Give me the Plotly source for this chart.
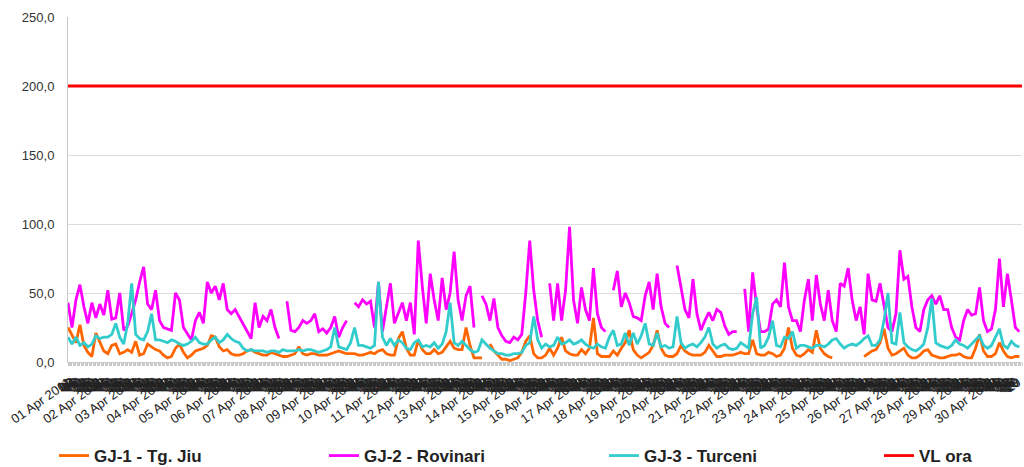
import plotly.graph_objects as go

# ---------------- data (3-hourly readings, April 2011) ----------------
month_label = "Apr 2011"
n_days = 30
step_hours = 3

series_names = ["GJ-1 - Tg. Jiu", "GJ-2 - Rovinari", "GJ-3 - Turceni", "VL ora"]
series_colors = ["#FF6600", "#FF00FF", "#33CCCC", "#FF0000"]

gj1_tg_jiu = [
    25, 20, 14, 27, 12, 7, 4, 21, 15, 8,
    6, 12, 13, 6, 7, 9, 7, 15, 5, 6,
    13, 11, 9, 8, 5, 3, 4, 10, 13, 7,
    3, 5, 8, 9, 10, 12, 19, 18, 11, 8,
    9, 6, 5, 5, 6, 8, 9, 7, 6, 5,
    5, 7, 6, 5, 4, 4, 5, 6, 11, 6,
    5, 6, 6, 5, 5, 5, 6, 7, 8, 7,
    6, 6, 6, 5, 5, 6, 7, 6, 8, 9,
    6, 5, 5, 17, 22, 10, 5, 5, 16, 9,
    6, 6, 9, 6, 7, 11, 15, 10, 9, 9,
    25, 12, 3, 3, 3, None, 13, 8, 5, 2,
    2, 1, 2, 3, 7, 15, 19, 6, 3, 3,
    5, 10, 5, 10, 18, 8, 6, 5, 5, 9,
    6, 10, 32, 6, 4, 4, 4, 8, 5, 10,
    14, 23, 9, 5, 3, 5, 7, 12, 23, 10,
    5, 4, 4, 6, 12, 8, 6, 5, 5, 5,
    7, 12, 8, 4, 4, 5, 5, 5, 6, 7,
    6, 6, 16, 6, 5, 5, 7, 6, 4, 5,
    10, 25, 10, 5, 4, 6, 9, 7, 23, 10,
    6, 4, 3, None, None, None, None, None, None, None,
    4, 6, 8, 9, 14, 24, 10, 5, 6, 8,
    10, 5, 3, 3, 5, 8, 9, 5, 4, 3,
    3, 4, 5, 5, 6, 4, 3, 3, 10, 20,
    8, 4, 4, 6, 14, 8, 4, 3, 4, 4,
]

gj2_rovinari = [
    43, 25, 45, 56, 40, 28, 43, 32, 42, 34,
    52, 31, 32, 50, 23, 26, 35, 45, 58, 69,
    42, 38, 52, 30, 25, 24, 23, 50, 45, 25,
    20, 16, 30, 36, 28, 58, 50, 55, 45, 57,
    38, 35, 38, 33, 28, 22, 17, 43, 25, 33,
    30, 38, 25, 17, None, 44, 23, 22, 25, 30,
    28, 30, 35, 22, 24, 21, 25, 33, 18, 25,
    30, None, 43, 40, 45, 42, 44, 25, 58, 22,
    40, 57, 28, 35, 43, 30, 43, 20, 88, 55,
    28, 64, 45, 30, 61, 38, 50, 80, 45, 30,
    48, 55, 25, None, 48, 42, 30, 46, 25, 19,
    15, 14, 18, 16, 20, 50, 88, 52, 30, 18,
    None, 57, 30, 57, 30, 52, 98, 45, 28, 54,
    38, 30, 68, 35, 25, 22, None, 52, 66, 40,
    50, 43, 33, 32, 30, 48, 58, 38, 64, 40,
    28, 25, None, 70, 55, 38, 32, 60, 35, 23,
    30, 36, 30, 38, 36, 26, 20, 22, 22, None,
    53, 22, 65, 40, 22, 22, 24, 42, 45, 40,
    72, 40, 30, 30, 22, 45, 60, 30, 63, 42,
    30, 52, 30, 22, 57, 55, 68, 45, 30, 40,
    20, 64, 45, 44, 57, 40, 25, 22, 35, 81,
    60, 62, 40, 25, 22, 38, 45, 48, 42, 48,
    38, 38, 25, 18, 16, 30, 38, 34, 35, 54,
    30, 22, 24, 38, 75, 40, 64, 45, 25, 22,
]

gj3_turceni = [
    18, 13, 18, 12, 14, 11, 13, 19, 17, 18,
    18, 20, 28, 18, 13, 28, 57, 20, 17, 16,
    22, 35, 16, 16, 15, 14, 16, 15, 13, 12,
    13, 15, 18, 14, 13, 13, 16, 18, 14, 16,
    20, 17, 15, 14, 10, 8, 9, 8, 8, 8,
    7, 8, 8, 7, 9, 8, 8, 8, 9, 8,
    9, 9, 8, 7, 8, 9, 11, 25, 11, 10,
    9, 14, 25, 12, 12, 11, 10, 12, 58, 18,
    12, 17, 12, 16, 14, 10, 9, 14, 16, 11,
    12, 11, 14, 10, 13, 22, 43, 14, 12, 15,
    12, 9, 7, 8, 16, 13, 10, 8, 6, 6,
    5, 5, 6, 6, 7, 12, 14, 33, 16, 10,
    13, 11, 12, 18, 13, 14, 16, 13, 14, 16,
    13, 11, 10, 13, 11, 10, 18, 23, 12, 13,
    21, 12, 21, 13, 19, 28, 13, 12, 21, 11,
    12, 10, 11, 33, 14, 10, 12, 13, 11, 14,
    18, 25, 13, 10, 12, 13, 10, 9, 10, 14,
    12, 10, 35, 47, 10, 12, 18, 30, 12, 11,
    18, 17, 22, 10, 12, 12, 11, 10, 12, 12,
    11, 13, 16, 17, 13, 10, 12, 13, 12, 14,
    17, 19, 12, 12, 16, 30, 50, 14, 13, 36,
    14, 11, 9, 8, 10, 13, 25, 46, 14, 12,
    11, 10, 12, 16, 13, 12, 10, 13, 16, 19,
    12, 10, 12, 18, 24, 12, 10, 15, 12, 11,
]

vl_ora = 200  # hourly limit value

y_tick_values = [0, 50, 100, 150, 200, 250]
y_tick_labels = ["0,0", "50,0", "100,0", "150,0", "200,0", "250,0"]

# ---------------- axes helpers ----------------
total_hours = n_days * 24
all_hours = list(range(total_hours))
sample_hours = list(range(0, total_hours, step_hours))
x_tick_text = [
    f"{h // 24 + 1:02d} {month_label}" if h % 24 == 0 else f"{h % 24:02d}"
    for h in all_hours
]

legend_ids = ["legend", "legend2", "legend3", "legend4"]
legend_x = [-0.0147, 0.2683, 0.5618, 0.8501]

fig = go.Figure()
for name, color, vals, lid in zip(series_names[:3], series_colors[:3],
                                  [gj1_tg_jiu, gj2_rovinari, gj3_turceni], legend_ids[:3]):
    fig.add_trace(go.Scatter(
        x=sample_hours, y=vals, mode="lines", name=name, legend=lid,
        line=dict(color=color, width=2.8), connectgaps=False,
    ))
fig.add_trace(go.Scatter(
    x=all_hours, y=[vl_ora] * total_hours, mode="lines", name=series_names[3],
    legend=legend_ids[3], line=dict(color=series_colors[3], width=2.8),
))

legend_font = dict(size=17, color="#222222",
                   family="Liberation Sans, Arial, sans-serif", weight="bold")
legend_layout = {}
for lid, lx in zip(legend_ids, legend_x):
    legend_layout[lid] = dict(
        orientation="h", x=lx, xanchor="left", y=-0.2725, yanchor="middle",
        font=legend_font, bgcolor="rgba(0,0,0,0)",
    )

fig.update_layout(
    width=1024, height=467,
    margin=dict(l=68, r=2, t=17, b=105, autoexpand=False),
    paper_bgcolor="white", plot_bgcolor="white",
    font=dict(family="Liberation Sans, Arial, sans-serif", color="#333333"),
    showlegend=True,
    xaxis=dict(
        range=[0, total_hours - 1], automargin=False,
        tickmode="array", tickvals=all_hours, ticktext=x_tick_text,
        tickangle=-35, tickfont=dict(size=13, color="#222222"),
        ticks="outside", ticklen=3, tickcolor="#c8c8c8", tickwidth=1,
        ticklabelstandoff=4,
        showline=True, linecolor="#c8c8c8", linewidth=1,
        showgrid=False, zeroline=False,
    ),
    yaxis=dict(
        range=[0, 250], automargin=False,
        tickmode="array", tickvals=y_tick_values, ticktext=y_tick_labels,
        tickfont=dict(size=13, color="#333333"),
        ticks="", ticklabelstandoff=10,
        showline=True, linecolor="#c8c8c8", linewidth=1,
        showgrid=True, gridcolor="#dcdcdc", gridwidth=1, zeroline=False,
    ),
    **legend_layout,
)

fig.write_html(
    "out.html",
    config={"displayModeBar": False},
    post_script="document.body.style.margin='0';document.body.style.overflow='hidden';",
)
